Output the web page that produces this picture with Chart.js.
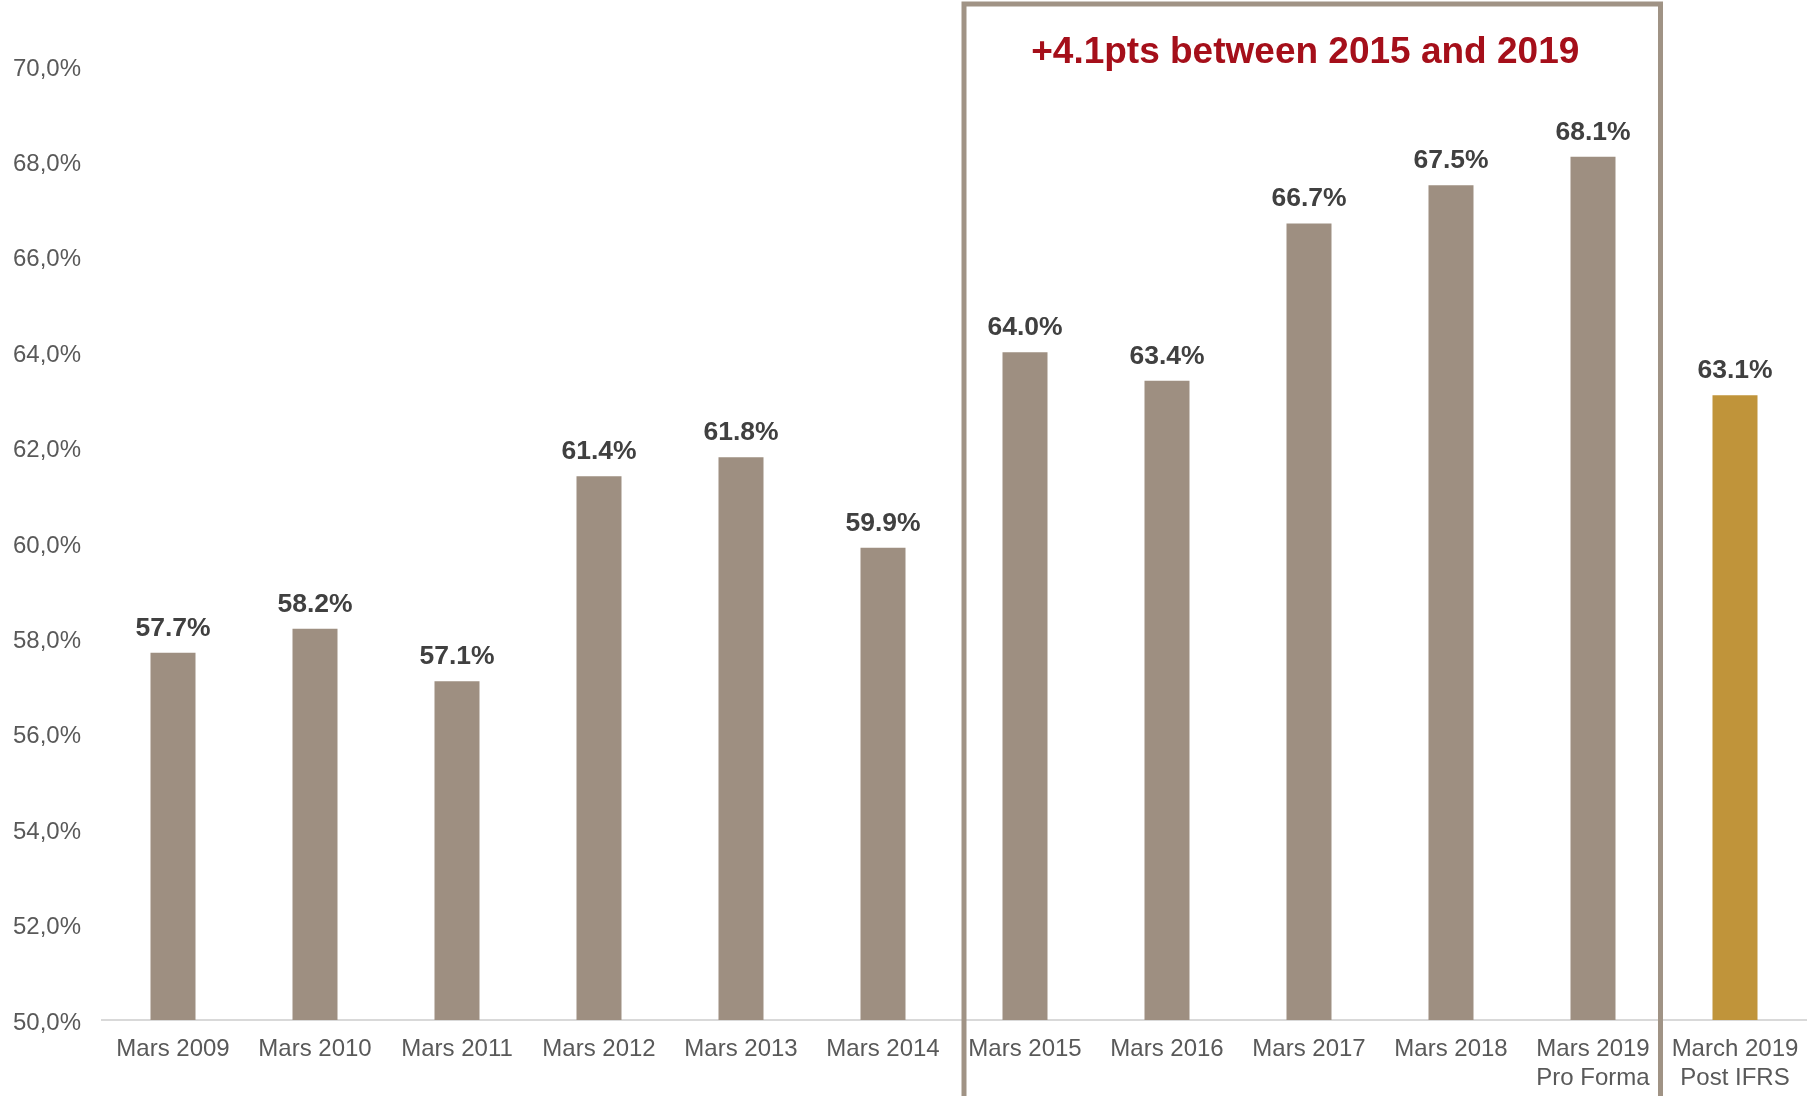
<!DOCTYPE html>
<html>
<head>
<meta charset="utf-8">
<script src="https://cdn.jsdelivr.net/npm/chart.js@4/dist/chart.umd.min.js"></script>
<style>
  body { margin: 0; background: #fff; }
  #wrap { width: 1807px; height: 1096px; }
</style>
</head>
<body>
<div id="wrap"><canvas id="myChart" width="1807" height="1096"></canvas></div>
<script>
// categories and values
const categories = [
    'Mars 2009', 'Mars 2010', 'Mars 2011', 'Mars 2012', 'Mars 2013', 'Mars 2014',
    'Mars 2015', 'Mars 2016', 'Mars 2017', 'Mars 2018',
    ['Mars 2019', 'Pro Forma'], ['March 2019', 'Post IFRS']
];
const values = [57.7, 58.2, 57.1, 61.4, 61.8, 59.9, 64.0, 63.4, 66.7, 67.5, 68.1, 63.1];
const barColors = ['#9e8f81', '#9e8f81', '#9e8f81', '#9e8f81', '#9e8f81', '#9e8f81',
    '#9e8f81', '#9e8f81', '#9e8f81', '#9e8f81', '#9e8f81', '#c0943a'];
const yMin = 50;
const yMax = 70;
const yStep = 2;
const boxFrom = 6;   // first category inside the frame
const boxTo = 10;    // last category inside the frame
const boxTitle = '+4.1pts between 2015 and 2019';

const FONT = "'Liberation Sans', Arial, sans-serif";

// labels over each bar
const valueLabels = {
    id: 'valueLabels',
    afterDatasetsDraw(chart) {
        const ctx = chart.ctx;
        const meta = chart.getDatasetMeta(0);
        ctx.save();
        ctx.font = 'bold 26.5px ' + FONT;
        ctx.fillStyle = '#404040';
        ctx.textAlign = 'center';
        ctx.textBaseline = 'alphabetic';
        meta.data.forEach((bar, i) => {
            ctx.fillText(values[i].toFixed(1) + '%', bar.x, bar.y - 17);
        });
        ctx.restore();
    }
};

// frame around 2015-2019 with its headline
const periodBox = {
    id: 'periodBox',
    afterDraw(chart) {
        const ctx = chart.ctx;
        const x = chart.scales.x;
        const left = x.getPixelForValue(boxFrom - 0.5) + 10;
        const right = x.getPixelForValue(boxTo + 0.5) - 3.5;
        ctx.save();
        ctx.strokeStyle = '#a09385';
        ctx.lineWidth = 5;
        ctx.beginPath();
        ctx.moveTo(left, chart.height + 10);
        ctx.lineTo(left, 4);
        ctx.lineTo(right, 4);
        ctx.lineTo(right, chart.height + 10);
        ctx.stroke();

        ctx.font = 'bold 37px ' + FONT;
        ctx.fillStyle = '#a50f1a';
        ctx.textAlign = 'center';
        ctx.textBaseline = 'alphabetic';
        ctx.fillText(boxTitle, (left + right) / 2 - 7, 63);
        ctx.restore();
    }
};

const ctx = document.getElementById('myChart').getContext('2d');
const myChart = new Chart(ctx, {
    type: 'bar',
    data: {
        labels: categories,
        datasets: [{
            data: values,
            backgroundColor: barColors,
            barPercentage: 0.317,
            categoryPercentage: 1.0
        }]
    },
    options: {
        responsive: false,
        animation: false,
        layout: { padding: { top: 66, right: 1, bottom: 0, left: 0 } },
        plugins: {
            legend: { display: false },
            tooltip: { enabled: false }
        },
        scales: {
            x: {
                grid: { display: false, drawTicks: true, tickLength: 8 },
                border: { display: true, color: '#d9d9d9', width: 2 },
                ticks: {
                    color: '#595959',
                    font: { family: FONT, size: 24 },
                    padding: 7,
                    maxRotation: 0,
                    autoSkip: false
                },
                afterFit(scale) { scale.height = 76; }
            },
            y: {
                min: yMin,
                max: yMax,
                grid: { display: false, drawTicks: false },
                border: { display: false },
                ticks: {
                    stepSize: yStep,
                    color: '#595959',
                    font: { family: FONT, size: 24 },
                    padding: 21,
                    labelOffset: 3,
                    callback: (v) => v.toFixed(1).replace('.', ',') + '%'
                },
                afterFit(scale) { scale.width = 102; }
            }
        }
    },
    plugins: [valueLabels, periodBox]
});
</script>
</body>
</html>
